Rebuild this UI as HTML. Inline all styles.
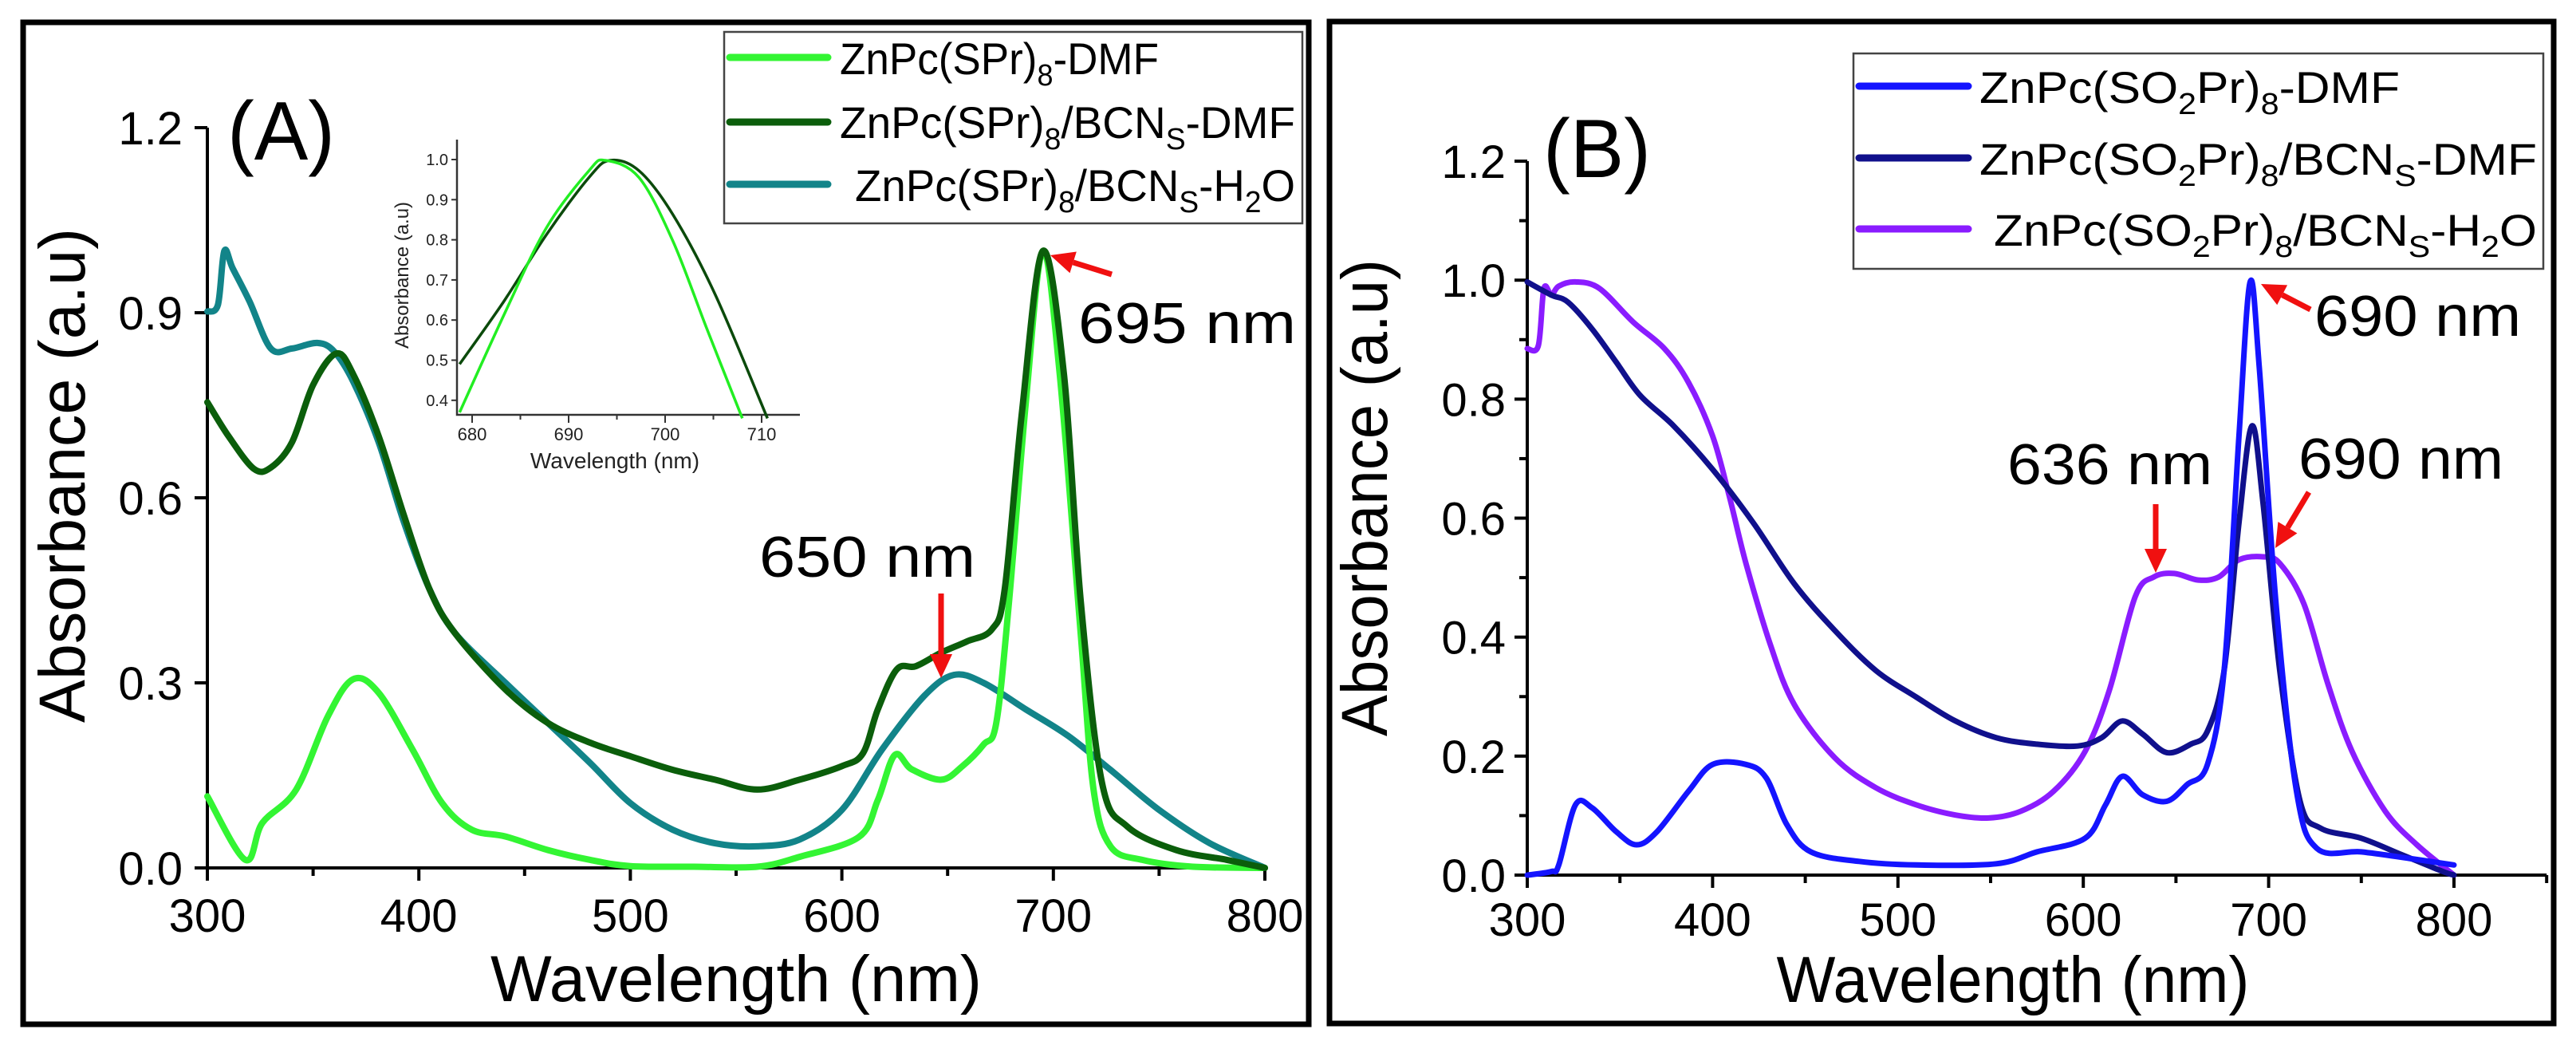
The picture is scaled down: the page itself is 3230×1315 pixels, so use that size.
<!DOCTYPE html>
<html><head><meta charset="utf-8"><style>
html,body{margin:0;padding:0;background:#fff;}
svg{display:block;font-family:"Liberation Sans",Arial,sans-serif;}
</style></head><body>
<svg id="fig" width="3230" height="1315" viewBox="0 0 3230 1315" xmlns="http://www.w3.org/2000/svg">
<rect x="0" y="0" width="3230" height="1315" fill="#fff"/>
<rect x="29" y="28" width="1612" height="1256" fill="none" stroke="#000" stroke-width="7"/>
<rect x="1667" y="27" width="1535" height="1256" fill="none" stroke="#000" stroke-width="7"/>
<g id="gA"></g>
<g id="gB"></g>
</svg>
<script>
// ---------- Panel A data ----------
const aLightX=[300,318,326,342,357,369,381,397,411,425,441,461,481,500,530,560,580,608,617,625,633,647,657,667,673,679,687,695,703,713,719,727,742,766,800];
const aLightY=[0.116,0.013,0.073,0.127,0.246,0.306,0.284,0.192,0.105,0.062,0.051,0.029,0.013,0.003,0.002,0.002,0.018,0.05,0.11,0.183,0.16,0.143,0.165,0.2,0.235,0.43,0.755,1.0,0.8,0.376,0.127,0.035,0.013,0.002,0];
const aDarkX=[300,310,322,330,340,350,361,369,381,393,405,417,441,461,481,500,520,540,560,580,600,610,617,626,635,647,659,671,677,685,695,705,713,723,735,758,782,800];
const aDarkY=[0.755,0.70,0.647,0.649,0.69,0.783,0.834,0.8,0.70,0.571,0.452,0.381,0.289,0.235,0.203,0.181,0.159,0.143,0.127,0.143,0.165,0.186,0.257,0.322,0.327,0.349,0.367,0.387,0.452,0.734,1.0,0.8,0.43,0.138,0.067,0.029,0.013,0];
const aTealX=[300,305,308,312,320,330,340,352,360,369,381,393,405,417,441,461,481,500,520,540,560,580,600,619,639,653,667,687,707,727,750,774,800];
const aTealY=[0.902,0.913,1.0,0.972,0.918,0.842,0.842,0.851,0.837,0.788,0.69,0.56,0.452,0.381,0.30,0.235,0.17,0.105,0.062,0.04,0.035,0.046,0.094,0.192,0.279,0.313,0.30,0.257,0.214,0.159,0.094,0.04,0];
const aXTicks=[300,400,500,600,700,800];
const aYTicks=[0.0,0.3,0.6,0.9,1.2];
const aYLabels=["0.0","0.3","0.6","0.9","1.2"];
// inset
const inLightX=[678.7,683.3,687.7,692.1,693.8,697.3,700.8,704.3,708.0];
const inLightY=[0.37,0.613,0.83,0.972,0.998,0.955,0.797,0.58,0.355];
const inDarkX=[678.7,683.3,687.7,692.1,694.3,697.3,700.8,705.2,710.6];
const inDarkY=[0.49,0.647,0.813,0.955,0.998,0.972,0.863,0.663,0.355];
const inXTicks=[680,690,700,710];
const inYTicks=[0.4,0.5,0.6,0.7,0.8,0.9,1.0];
// ---------- Panel B data ----------
const bBlueX=[300,313,317,326,335,348,359,370,387,400,418,429,440,453,479,510,553,575,601,612,621,632,645,656,667,676,684,690,695,704,715,726,750,776,800];
const bBlueY=[0,0.006,0.017,0.118,0.113,0.073,0.051,0.073,0.141,0.186,0.186,0.163,0.085,0.039,0.023,0.017,0.019,0.039,0.062,0.118,0.166,0.135,0.124,0.152,0.186,0.344,0.738,0.997,0.851,0.456,0.141,0.045,0.039,0.028,0.017];
const bNavyX=[300,313,322,335,348,361,379,400,422,444,466,488,510,531,553,575,597,610,621,632,645,658,667,676,684,691,697,706,717,728,750,772,794,800];
const bNavyY=[0.997,0.975,0.963,0.918,0.862,0.806,0.755,0.682,0.592,0.49,0.411,0.344,0.299,0.259,0.231,0.22,0.217,0.231,0.259,0.237,0.206,0.22,0.242,0.344,0.592,0.755,0.625,0.344,0.124,0.079,0.062,0.034,0.006,0];
const bPurpX=[300,306,309,313,317,326,339,357,374,387,400,409,418,431,444,466,488,510,531,549,566,584,601,614,628,638,649,662,673,684,697,706,719,732,745,763,780,800];
const bPurpY=[0.885,0.89,0.986,0.975,0.99,0.997,0.986,0.93,0.885,0.828,0.738,0.637,0.524,0.389,0.287,0.197,0.147,0.118,0.101,0.096,0.107,0.141,0.208,0.31,0.468,0.501,0.507,0.496,0.501,0.53,0.535,0.524,0.456,0.321,0.208,0.107,0.051,0];
const bXTicks=[300,400,500,600,700,800];
const bYTicks=[0.0,0.2,0.4,0.6,0.8,1.0,1.2];
const bYLabels=["0.0","0.2","0.4","0.6","0.8","1.0","1.2"];

const NS="http://www.w3.org/2000/svg";
function mk(parent,tag,attrs){const e=document.createElementNS(NS,tag);for(const k in attrs)e.setAttribute(k,attrs[k]);parent.appendChild(e);return e;}
function pathD(xs,ys,sx,sy){
  const P=xs.map((x,i)=>[sx(x),sy(ys[i])]);
  let d="M"+P[0][0].toFixed(1)+","+P[0][1].toFixed(1);
  for(let i=0;i<P.length-1;i++){
    const p0=P[Math.max(0,i-1)],p1=P[i],p2=P[i+1],p3=P[Math.min(P.length-1,i+2)];
    const t=1/6;
    const c1=[p1[0]+(p2[0]-p0[0])*t,p1[1]+(p2[1]-p0[1])*t];
    const c2=[p2[0]-(p3[0]-p1[0])*t,p2[1]-(p3[1]-p1[1])*t];
    d+="C"+c1[0].toFixed(1)+","+c1[1].toFixed(1)+" "+c2[0].toFixed(1)+","+c2[1].toFixed(1)+" "+p2[0].toFixed(1)+","+p2[1].toFixed(1);
  }
  return d;
}

const gA=document.getElementById('gA'), gB=document.getElementById('gB');

// ---- Panel A axes
const axA=x=>260+(x-300)*2.652, ayA=y=>1088-y*773.3;
let e;
e=mk(gA,'path',{d:`M260,${ayA(1.2)}V1088H1586`,fill:'none',stroke:'#000','stroke-width':4});


for(let v=300;v<=800;v+=50){
  e=mk(gA,'line',{x1:axA(v),x2:axA(v),y1:1088,y2:1088+(v%100?10:16),stroke:'#000','stroke-width':4});
  
  
}
aXTicks.forEach(v=>{
  e=mk(gA,'text',{x:axA(v),y:1168,'font-size':58,'text-anchor':'middle'});e.textContent=v;
  
  
});
aYTicks.forEach((v,i)=>{
  e=mk(gA,'line',{x1:244,x2:260,y1:ayA(v),y2:ayA(v),stroke:'#000','stroke-width':4});
  
  
  e=mk(gA,'text',{x:229,y:ayA(v)+21,'font-size':58,'text-anchor':'end'});e.textContent=aYLabels[i];
  
  
});
e=mk(gA,'text',{x:923,y:1255,'font-size':82,'text-anchor':'middle',textLength:616,lengthAdjust:'spacingAndGlyphs'});e.textContent='Wavelength (nm)';


e=mk(gA,'text',{x:0,y:0,'font-size':82,'text-anchor':'middle',textLength:620,lengthAdjust:'spacingAndGlyphs',transform:'translate(106,596) rotate(-90)'});e.textContent='Absorbance (a.u)';


e=mk(gA,'text',{x:285,y:200,'font-size':104,textLength:135,lengthAdjust:'spacingAndGlyphs'});e.textContent='(A)';


// series A
[[aTealX,aTealY,'#128489','series-h2o'],[aLightX,aLightY,'#33f533','series-spr-dmf'],[aDarkX,aDarkY,'#0b5e0b','series-bcn-dmf']].forEach(s=>{
  e=mk(gA,'path',{d:pathD(s[0],s[1],axA,ayA),fill:'none',stroke:s[2],'stroke-width':8,'stroke-linejoin':'round','stroke-linecap':'round'});
  
  
});
// inset
const ixA=x=>592+(x-680)*12.1, iyA=y=>200+(1.0-y)*503;
e=mk(gA,'path',{d:'M573,175V520H1003',fill:'none',stroke:'#333','stroke-width':2.5});


for(let v=680;v<=714;v+=5){
  e=mk(gA,'line',{x1:ixA(v),x2:ixA(v),y1:520,y2:v%10?526:530,stroke:'#333','stroke-width':2});
  
  
}
inXTicks.forEach(v=>{
  e=mk(gA,'text',{x:ixA(v),y:552,'font-size':22,'text-anchor':'middle',fill:'#222'});e.textContent=v;
  
  
});
inYTicks.forEach(v=>{
  e=mk(gA,'line',{x1:566,x2:573,y1:iyA(v),y2:iyA(v),stroke:'#333','stroke-width':2});
  
  
  e=mk(gA,'text',{x:562,y:iyA(v)+7,'font-size':20,'text-anchor':'end',fill:'#222'});e.textContent=v.toFixed(1);
  
  
});
e=mk(gA,'text',{x:771,y:587,'font-size':28,'text-anchor':'middle',fill:'#222'});e.textContent='Wavelength (nm)';


e=mk(gA,'text',{x:0,y:0,'font-size':24,'text-anchor':'middle',fill:'#222',transform:'translate(512,345) rotate(-90)'});e.textContent='Absorbance (a.u)';


[[inDarkX,inDarkY,'#0b4a0b','inset-bcn-dmf'],[inLightX,inLightY,'#22ee22','inset-spr-dmf']].forEach(s=>{
  e=mk(gA,'path',{d:pathD(s[0],s[1],ixA,iyA),fill:'none',stroke:s[2],'stroke-width':3.5,'stroke-linejoin':'round'});
  
  
});

// ---- Panel B axes
const axB=x=>1915+(x-300)*2.324, ayB=y=>1097-y*745.8;
e=mk(gB,'path',{d:`M1915,${ayB(1.2)}V1097H${axB(850)}`,fill:'none',stroke:'#000','stroke-width':4});


for(let v=300;v<=850;v+=50){
  e=mk(gB,'line',{x1:axB(v),x2:axB(v),y1:1097,y2:1097+(v%100?10:16),stroke:'#000','stroke-width':4});
  
  
}
for(let k=0;k<=12;k++){
  e=mk(gB,'line',{x1:k%2?1905:1899,x2:1915,y1:ayB(k/10),y2:ayB(k/10),stroke:'#000','stroke-width':4});
  
  
}
bXTicks.forEach(v=>{
  e=mk(gB,'text',{x:axB(v),y:1173,'font-size':58,'text-anchor':'middle'});e.textContent=v;
  
  
});
bYTicks.forEach((v,i)=>{
  e=mk(gB,'text',{x:1888,y:ayB(v)+21,'font-size':58,'text-anchor':'end'});e.textContent=bYLabels[i];
  
  
});
e=mk(gB,'text',{x:2524,y:1256,'font-size':82,'text-anchor':'middle',textLength:593,lengthAdjust:'spacingAndGlyphs'});e.textContent='Wavelength (nm)';


e=mk(gB,'text',{x:0,y:0,'font-size':82,'text-anchor':'middle',textLength:598,lengthAdjust:'spacingAndGlyphs',transform:'translate(1739,624) rotate(-90)'});e.textContent='Absorbance (a.u)';


e=mk(gB,'text',{x:1935,y:222,'font-size':104,textLength:135,lengthAdjust:'spacingAndGlyphs'});e.textContent='(B)';


[[bPurpX,bPurpY,'#8a1cff','series-h2o'],[bNavyX,bNavyY,'#10108c','series-bcn-dmf'],[bBlueX,bBlueY,'#1414ff','series-so2pr-dmf']].forEach(s=>{
  e=mk(gB,'path',{d:pathD(s[0],s[1],axB,ayB),fill:'none',stroke:s[2],'stroke-width':7,'stroke-linejoin':'round','stroke-linecap':'round'});
  
  
});

// ---- arrows & annotations
function arrow(g,x1,y1,x2,y2,name){
  const a=Math.atan2(y2-y1,x2-x1),L=30,W=14;
  const bx=x2-L*Math.cos(a),by=y2-L*Math.sin(a);
  let el=mk(g,'line',{x1:x1,y1:y1,x2:bx,y2:by,stroke:'#f01010','stroke-width':7});
  
  
  el=mk(g,'polygon',{points:`${x2},${y2} ${bx+W*Math.sin(a)},${by-W*Math.cos(a)} ${bx-W*Math.sin(a)},${by+W*Math.cos(a)}`,fill:'#f01010'});
  
  
}
function label(g,txt,x,y,w,name){
  const el=mk(g,'text',{x:x,y:y,'font-size':72,textLength:w,lengthAdjust:'spacingAndGlyphs'});el.textContent=txt;
  
  
}
arrow(gA,1394,344,1317,320,'arrow-695');
arrow(gA,1180,744,1180,850,'arrow-650');
label(gA,'695 nm',1352,430,273,'label-695nm');
label(gA,'650 nm',952,723,271,'label-650nm');
arrow(gB,2897,388,2835,356,'arrow-690-top');
arrow(gB,2703,632,2703,718,'arrow-636');
arrow(gB,2895,617,2853,687,'arrow-690-h2o');
label(gB,'690 nm',2902,421,259,'label-690nm-top');
label(gB,'636 nm',2517,607,257,'label-636nm');
label(gB,'690 nm',2882,600,257,'label-690nm');

// ---- legends
function legend(g,box,rows,name){
  let el=mk(g,'rect',{x:box[0],y:box[1],width:box[2],height:box[3],fill:'#fff',stroke:'#444','stroke-width':2.5});
  
  
  rows.forEach(r=>{
    el=mk(g,'line',{x1:r.lx1,x2:r.lx2,y1:r.ly,y2:r.ly,stroke:r.c,'stroke-width':9,'stroke-linecap':'round'});
    
    
    const t=mk(g,'text',{x:r.tx,y:r.ty,'font-size':56,textLength:r.tw,lengthAdjust:'spacingAndGlyphs'});
    
    
    let off=0;
    r.parts.forEach(p=>{
      const want=p[1]?14:0;
      const s=mk(t,'tspan',p[1]?{'font-size':38,dy:want-off}:{dy:want-off});
      s.textContent=p[0];
      off=want;
    });
  });
}
legend(gA,[908,40,725,240],[
 {c:'#33f533',lx1:915,lx2:1038,ly:72,tx:1053,ty:93,tw:400,parts:[['ZnPc(SPr)'],['8','sub'],['-DMF']]},
 {c:'#0b5e0b',lx1:915,lx2:1038,ly:153,tx:1053,ty:173,tw:571,parts:[['ZnPc(SPr)'],['8','sub'],['/BCN'],['S','sub'],['-DMF']]},
 {c:'#128489',lx1:915,lx2:1038,ly:231,tx:1072,ty:252,tw:552,parts:[['ZnPc(SPr)'],['8','sub'],['/BCN'],['S','sub'],['-H'],['2','sub'],['O']]}
],'legend-a');
legend(gB,[2324,67,865,270],[
 {c:'#1414ff',lx1:2331,lx2:2468,ly:108,tx:2482,ty:129,tw:527,parts:[['ZnPc(SO'],['2','sub'],['Pr)'],['8','sub'],['-DMF']]},
 {c:'#10108c',lx1:2331,lx2:2468,ly:198,tx:2482,ty:219,tw:699,parts:[['ZnPc(SO'],['2','sub'],['Pr)'],['8','sub'],['/BCN'],['S','sub'],['-DMF']]},
 {c:'#8a1cff',lx1:2331,lx2:2468,ly:287,tx:2500,ty:308,tw:681,parts:[['ZnPc(SO'],['2','sub'],['Pr)'],['8','sub'],['/BCN'],['S','sub'],['-H'],['2','sub'],['O']]}
],'legend-b');
</script>
</body></html>
